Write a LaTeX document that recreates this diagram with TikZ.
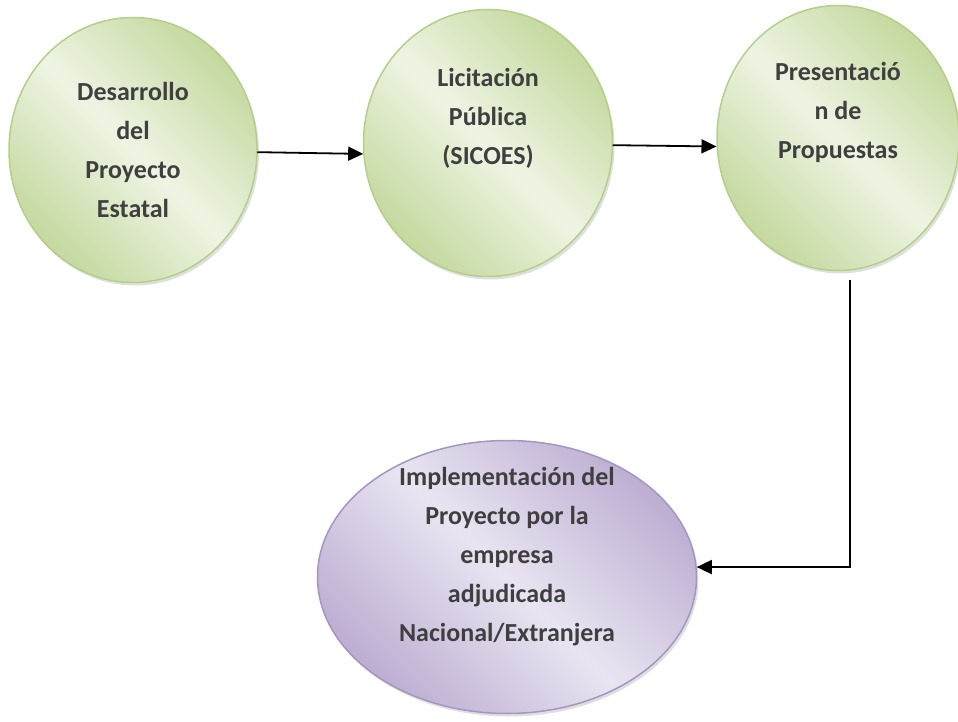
\documentclass[tikz,border=0pt]{standalone}
\usepackage{fontspec}
\setmainfont{Carlito}
\usetikzlibrary{arrows.meta,shapes.geometric,shadows}
\definecolor{leafdark}{HTML}{C4D99E}
\definecolor{leaflight}{HTML}{EEF4E3}
\definecolor{leafedge}{HTML}{B4CF8A}
\definecolor{lilacdark}{HTML}{BDAED2}
\definecolor{lilaclight}{HTML}{E9E4F1}
\definecolor{lilacedge}{HTML}{A595C3}
\definecolor{inkgray}{HTML}{3F3F3F}

\begin{document}
\begin{tikzpicture}[line cap=round,line join=round,>={Triangle[length=15pt,width=14pt]},x=1pt,y=1pt,
  stage/.style={ellipse,inner sep=0pt,line width=1.5pt,
    drop shadow={shadow xshift=2pt,shadow yshift=-3pt,opacity=0.25}},
  greenstage/.style={stage,draw=leafedge,top color=leafdark,bottom color=leafdark,middle color=leaflight,shading angle=-45},
  purplestage/.style={stage,draw=lilacedge,top color=lilacdark,bottom color=lilacdark,middle color=lilaclight,shading angle=-45},
  caption/.style={align=center,text=inkgray,font=\fontsize{26}{39}\selectfont\bfseries},
  flow/.style={->,line width=1.8pt}]
\useasboundingbox (0,0) rectangle (958,721);
% the four stages
\node[greenstage,minimum width=248pt,minimum height=265pt] (desarrollo) at (133,571) {};
\node[greenstage,minimum width=249pt,minimum height=267pt] (licitacion) at (488,578) {};
\node[greenstage,minimum width=242pt,minimum height=265pt] (propuestas) at (838,583) {};
\node[purplestage,minimum width=379pt,minimum height=273pt] (implementacion) at (507,144) {};
% texts
\node[caption] (desarrollotxt) at (desarrollo) {Desarrollo\\del\\Proyecto\\Estatal};
\node[caption,yshift=25pt] (licitaciontxt) at (licitacion) {Licitación\\Pública\\(SICOES)};
\node[caption,yshift=26pt] (propuestastxt) at (propuestas) {Presentació\\n de\\Propuestas};
\node[caption,yshift=20pt] (implementaciontxt) at (implementacion) {Implementación del\\Proyecto por la\\empresa\\adjudicada\\Nacional/Extranjera};
% connectors
\coordinate (drop) at (850,441);
\draw[flow] (desarrollo.359) -- (licitacion.185);
\draw[flow] (licitacion.-1) -- (propuestas.184);
\draw[flow,line cap=butt,line join=miter] (drop) |- (implementacion.3);
\end{tikzpicture}
\end{document}
